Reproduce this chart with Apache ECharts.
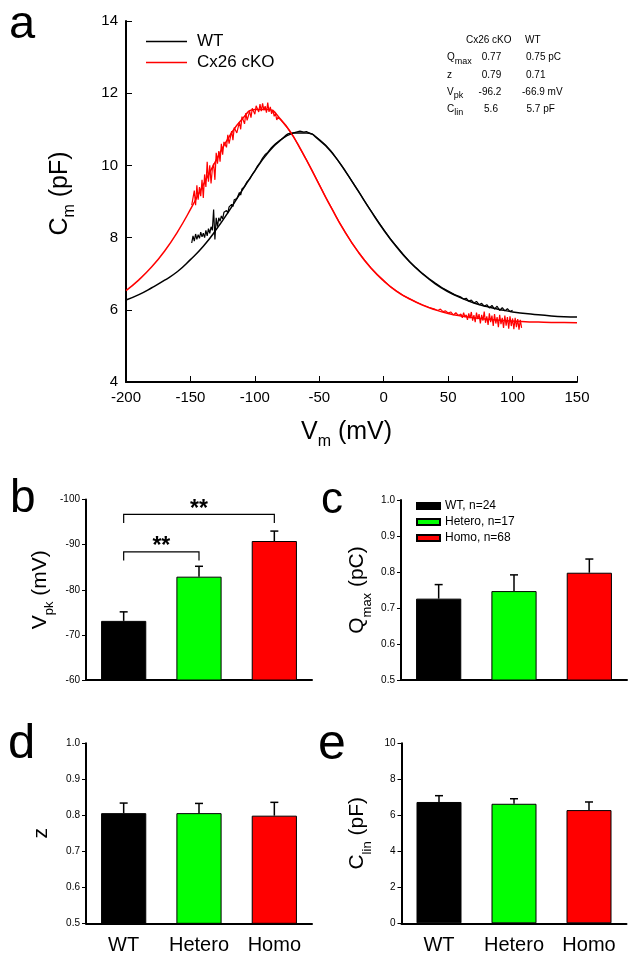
<!DOCTYPE html>
<html><head><meta charset="utf-8">
<script src="https://cdn.jsdelivr.net/npm/echarts@6/dist/echarts.min.js"></script>
<style>html,body{margin:0;padding:0;background:#fff}#c{width:639px;height:963px}</style>
</head><body><div id="c"></div>
<script>
const FONT = '"Liberation Sans", Arial, sans-serif';

// ---- Panel a : Cm vs Vm ----
const fitV  = [-200,-190,-180,-170,-160,-150,-140,-130,-120,-110,-100,-90,-80,-70,-60,-50,-40,-30,-20,-10,0,10,20,30,40,50,60,70,80,90,100,110,120,130,140,150];
const fitWT = [6.27,6.42,6.61,6.82,7.06,7.39,7.76,8.22,8.74,9.30,9.85,10.34,10.70,10.90,10.90,10.70,10.34,9.85,9.30,8.74,8.21,7.74,7.33,7.00,6.72,6.50,6.33,6.19,6.09,6.01,5.94,5.90,5.86,5.83,5.81,5.80];
const fitKO = [6.53,6.83,7.19,7.63,8.16,8.78,9.46,10.15,10.79,11.28,11.55,11.55,11.28,10.79,10.15,9.46,8.78,8.15,7.61,7.16,6.80,6.51,6.30,6.13,6.00,5.90,5.83,5.78,5.74,5.71,5.69,5.67,5.66,5.65,5.645,5.64];

const traceWT = [[-149,7.85],[-148,8.05],[-147,7.90],[-146,8.10],[-145,7.95],[-144,8.08],[-143,7.98],[-142,8.15],[-141,8.02],[-140,8.12],[-139,8.00],[-138,8.20],[-137,8.05],[-136,8.25],[-135,8.12],[-134,8.30],[-133,8.20],[-132,8.78],[-131,7.95],[-130,8.55],[-129,8.30],[-128,8.55],[-127,8.45],[-126,8.60],[-125,8.52],[-124,8.70],[-122,8.75],[-121,8.68],[-120,8.85],[-118,8.92],[-117,8.86],[-116,9.05],[-114,9.08],[-112,9.25],[-111,9.18],[-110,9.35],[-108,9.42],[-107,9.38],[-106,9.55],[-104,9.62],[-103,9.58],[-102,9.75],[-100,9.85],[-98,9.98],[-96,10.08],[-94,10.20],[-92,10.30],[-90,10.36],[-87,10.50],[-84,10.60],[-80,10.71],[-75,10.82],[-70,10.90],[-65,10.95],[-62,10.92],[-60,10.94],[-57,10.88],[-55,10.86],[-50,10.72],[-45,10.56],[-40,10.36],[-35,10.11],[-30,9.86],[-25,9.58],[-20,9.31],[-15,9.02],[-10,8.75],[-5,8.48],[0,8.22],[5,7.97],[10,7.76],[15,7.54],[20,7.34],[25,7.17],[30,7.01],[35,6.87],[40,6.74],[45,6.62],[50,6.52],[55,6.42],[60,6.35],[62,6.30],[64,6.32],[66,6.24],[68,6.27],[70,6.19],[72,6.23],[74,6.14],[76,6.18],[78,6.10],[80,6.14],[82,6.05],[84,6.12],[86,6.02],[88,6.10],[90,5.98],[92,6.06],[94,5.97],[96,6.03],[98,5.95],[100,5.99]];

const traceKO = [[-149,8.90],[-147,9.30],[-146,8.90],[-145,9.45],[-144,9.05],[-143,9.40],[-142,9.15],[-141,9.60],[-140,9.10],[-139,9.75],[-138,9.40],[-137,10.10],[-136,9.55],[-135,10.00],[-134,9.50],[-133,9.90],[-132,10.05],[-131,9.60],[-130,10.35],[-129,10.05],[-128,10.40],[-127,10.10],[-126,10.60],[-125,10.30],[-124,10.65],[-122,10.50],[-121,10.85],[-120,10.60],[-118,10.95],[-117,10.70],[-116,11.05],[-114,10.90],[-112,11.20],[-111,11.00],[-110,11.35],[-108,11.15],[-107,11.45],[-106,11.25],[-104,11.50],[-103,11.32],[-102,11.58],[-100,11.42],[-99,11.65],[-97,11.48],[-96,11.70],[-95,11.50],[-94,11.72],[-93,11.53],[-92,11.64],[-91,11.46],[-90,11.74],[-89,11.48],[-88,11.62],[-87,11.43],[-86,11.54],[-85,11.36],[-84,11.44],[-83,11.26],[-82,11.34],[-80,11.26],[-78,11.18],[-75,11.05],[-72,10.90],[-70,10.80],[-65,10.47],[-60,10.16],[-55,9.82],[-50,9.47],[-45,9.12],[-40,8.79],[-35,8.46],[-30,8.16],[-25,7.87],[-20,7.62],[-15,7.38],[-10,7.17],[-5,6.98],[0,6.81],[5,6.65],[10,6.52],[15,6.40],[20,6.31],[25,6.22],[30,6.14],[35,6.07],[40,6.01],[42,5.98],[44,6.02],[46,5.95],[48,5.97],[50,5.91],[52,5.94],[54,5.86],[56,5.92],[58,5.84],[60,5.88],[61,5.78],[62,5.92],[63,5.80],[64,5.86],[65,5.72],[66,5.90],[67,5.76],[68,5.94],[69,5.70],[70,5.85],[71,5.66],[72,5.92],[73,5.74],[74,5.88],[75,5.62],[76,5.86],[77,5.70],[78,5.95],[79,5.64],[80,5.82],[81,5.58],[82,5.90],[83,5.66],[84,5.84],[85,5.55],[86,5.88],[87,5.62],[88,5.80],[89,5.52],[90,5.86],[91,5.60],[92,5.78],[93,5.50],[94,5.84],[95,5.56],[96,5.80],[97,5.48],[98,5.82],[99,5.55],[100,5.76],[101,5.46],[102,5.78],[103,5.52],[104,5.74],[105,5.45],[106,5.72],[107,5.50]];

const xTicksA = [-200,150,50];   // min, max, interval
const yTicksA = [4,14,2];

// ---- Panels b-e : group bars ----
const groups = ['WT','Hetero','Homo'];
const legendNames = ['WT, n=24','Hetero, n=17','Homo, n=68'];
const barColors = ['#000000','#00ff00','#ff0000'];
const vpkMean  = [-73.1,-82.9,-90.8];
const vpkErr   = [2.0,2.3,2.2];
const qmaxMean = [0.726,0.747,0.798];
const qmaxErr  = [0.039,0.045,0.038];
const zMean    = [0.806,0.806,0.799];
const zErr     = [0.028,0.027,0.037];
const clinMean = [6.74,6.64,6.29];
const clinErr  = [0.35,0.28,0.45];
// significance brackets in b: from group, to group, bracket level, leg end
const brFrom = [0,0];
const brTo   = [1,2];
const brTop  = [-88.4,-96.7];
const brLeg  = [-86.5,-94.8];

const chart = echarts.init(document.getElementById('c'), null, {renderer:'canvas'});

const richBig = {
  a:{fontSize:25, fontFamily:FONT, color:'#000', lineHeight:36},
  b:{fontSize:16, fontFamily:FONT, color:'#000', lineHeight:13, verticalAlign:'bottom'}
};
const richSmall = {
  a:{fontSize:21, fontFamily:FONT, color:'#000', lineHeight:32},
  b:{fontSize:13, fontFamily:FONT, color:'#000', lineHeight:11, verticalAlign:'bottom'}
};

const grids = [
  {left:126, top:21, width:451, height:361},
  {left:86, top:499.5, width:226, height:180.5},
  {left:401, top:500, width:226, height:180},
  {left:86, top:743.3, width:226, height:180},
  {left:401.5, top:743.3, width:225, height:180}
];

const xAxes = [{
  gridIndex:0, type:'value', min:xTicksA[0], max:xTicksA[1], interval:xTicksA[2],
  axisLine:{onZero:false, lineStyle:{color:'#000', width:2}},
  axisTick:{inside:true, length:6, lineStyle:{color:'#000', width:1}},
  axisLabel:{color:'#000', fontSize:15, fontFamily:FONT, margin:8},
  splitLine:{show:false},
  name:'{a|V}{b|m}{a| (mV)}', nameLocation:'middle', nameGap:32,
  nameTextStyle:{rich:richBig, padding:[0,10,0,0]}
}];
const yAxes = [{
  gridIndex:0, type:'value', min:yTicksA[0], max:yTicksA[1], interval:yTicksA[2],
  axisLine:{onZero:false, lineStyle:{color:'#000', width:2}},
  axisTick:{inside:true, length:6, lineStyle:{color:'#000', width:1}},
  axisLabel:{color:'#000', fontSize:15, fontFamily:FONT, margin:8},
  splitLine:{show:false},
  name:'{a|C}{b|m}{a| (pF)}', nameLocation:'middle', nameGap:48,
  nameTextStyle:{rich:richBig, padding:[0,0,0,16]}
}];

function catAxis(gi, showLabels){
  return {
    gridIndex:gi, type:'category', data:groups, boundaryGap:true,
    axisLine:{onZero:false, lineStyle:{color:'#000', width:2}},
    axisTick:{show:false},
    axisLabel:{show:showLabels, interval:0, color:'#000', fontSize:20, fontFamily:FONT, margin:12},
    splitLine:{show:false}
  };
}
function valAxis(gi, min, max, interval, name, nameGap, fmt, inverse){
  return {
    gridIndex:gi, type:'value', min:min, max:max, interval:interval, inverse:!!inverse,
    axisLine:{show:true, onZero:false, lineStyle:{color:'#000', width:2}},
    axisTick:{show:true, inside:false, length:4, lineStyle:{color:'#000', width:1}},
    axisLabel:{color:'#000', fontSize:10, fontFamily:FONT, margin:6, formatter:fmt},
    splitLine:{show:false},
    name:name, nameLocation:'middle', nameGap:nameGap,
    nameTextStyle:{rich:richSmall}
  };
}
const f1 = v => v.toFixed(1);
const f0 = v => String(v);
xAxes.push(catAxis(1,false), catAxis(2,false), catAxis(3,true), catAxis(4,true));
yAxes.push(
  valAxis(1,-100,-60,10,'{a|V}{b|pk}{a| (mV)}',28,f0,true),
  valAxis(2,0.5,1.0,0.1,'{a|Q}{b|max}{a| (pC)}',27.5,f1,false),
  valAxis(3,0.5,1.0,0.1,'{a|z}',29,f1,false),
  valAxis(4,0,10,2,'{a|C}{b|lin}{a| (pF)}',28,f0,false)
);

const series = [];
// panel a lines
series.push({type:'line', name:'WT', xAxisIndex:0, yAxisIndex:0, data:fitV.map((v,i)=>[v,fitWT[i]]),
  symbol:'none', smooth:true, lineStyle:{color:'#000', width:1.5}, itemStyle:{color:'#000'}, z:2});
series.push({type:'line', name:'Cx26 cKO', xAxisIndex:0, yAxisIndex:0, data:fitV.map((v,i)=>[v,fitKO[i]]),
  symbol:'none', smooth:true, lineStyle:{color:'#ff0000', width:1.5}, itemStyle:{color:'#ff0000'}, z:2});
series.push({type:'line', name:'WT', xAxisIndex:0, yAxisIndex:0, data:traceWT,
  symbol:'none', lineStyle:{color:'#000', width:1.2}, itemStyle:{color:'#000'}, z:3});
series.push({type:'line', name:'Cx26 cKO', xAxisIndex:0, yAxisIndex:0, data:traceKO,
  symbol:'none', lineStyle:{color:'#ff0000', width:1.2}, itemStyle:{color:'#ff0000'}, z:3});

function addBars(gi, means, errs, sign){
  for (let k=0;k<3;k++){
    series.push({type:'bar', name:legendNames[k], xAxisIndex:gi, yAxisIndex:gi,
      data:means.map((m,j)=> j===k ? m : '-'),
      barWidth:'60%', barGap:'-100%', clip:true,
      itemStyle:{color:barColors[k], borderColor:'#000', borderWidth:1}, z:2});
  }
  series.push({type:'custom', xAxisIndex:gi, yAxisIndex:gi,
    data:means.map((m,j)=>[j, m, m + sign*errs[j]]),
    renderItem:function(params, api){
      const p0 = api.coord([api.value(0), api.value(1)]);
      const p1 = api.coord([api.value(0), api.value(2)]);
      return {type:'group', children:[
        {type:'line', shape:{x1:p0[0], y1:p0[1], x2:p1[0], y2:p1[1]}, style:{stroke:'#000', lineWidth:1.5}},
        {type:'line', shape:{x1:p1[0]-4, y1:p1[1], x2:p1[0]+4, y2:p1[1]}, style:{stroke:'#000', lineWidth:1.5}}
      ]};
    }, z:3});
}
addBars(1, vpkMean, vpkErr, -1);
addBars(2, qmaxMean, qmaxErr, 1);
addBars(3, zMean, zErr, 1);
addBars(4, clinMean, clinErr, 1);

series.push({type:'custom', xAxisIndex:1, yAxisIndex:1,
  data:brFrom.map((f,i)=>[f, brTo[i], brTop[i], brLeg[i]]),
  renderItem:function(params, api){
    const a = api.coord([api.value(0), api.value(2)]);
    const b = api.coord([api.value(1), api.value(2)]);
    const aL = api.coord([api.value(0), api.value(3)]);
    const bL = api.coord([api.value(1), api.value(3)]);
    return {type:'group', children:[
      {type:'polyline', shape:{points:[[aL[0],aL[1]],[a[0],a[1]],[b[0],b[1]],[bL[0],bL[1]]]}, style:{stroke:'#000', lineWidth:1.2, fill:null}},
      {type:'text', x:(a[0]+b[0])/2, y:a[1]-5, style:{text:'**', fontSize:23, fontWeight:'bold', fontFamily:FONT, fill:'#000', align:'center', verticalAlign:'middle'}}
    ]};
  }, z:4});

function ttext(x, y, t, align){
  return {type:'text', x:x, y:y, silent:true, style:{text:t, fontSize:10, fontFamily:FONT, fill:'#000', align:align||'left', verticalAlign:'middle'}};
}
function tsub(x, y, main, sub){
  return {type:'text', x:x, y:y, silent:true, style:{text:'{m|'+main+'}{s|'+sub+'}', verticalAlign:'middle', align:'left',
    rich:{m:{fontSize:10, fontFamily:FONT, fill:'#000', lineHeight:16}, s:{fontSize:9, fontFamily:FONT, fill:'#000', lineHeight:6, verticalAlign:'bottom'}}}};
}
function letter(x, y, t, size){
  return {type:'text', x:x, y:y, silent:true, style:{text:t, fontSize:size, fontFamily:FONT, fill:'#000', align:'left', verticalAlign:'middle'}};
}

const graphic = [
  letter(9, 41-0.35*47, 'a', 47),
  letter(10, 515-0.35*46, 'b', 46),
  letter(321, 516-0.35*44, 'c', 44),
  letter(8, 762-0.35*49, 'd', 49),
  letter(318, 763-0.35*50, 'e', 50),
  ttext(466, 40, 'Cx26 cKO'), ttext(525, 40, 'WT'),
  tsub(447, 57.7, 'Q', 'max'), ttext(491.5, 57.7, '0.77', 'center'), ttext(526, 57.7, '0.75 pC'),
  ttext(447, 75, 'z'), ttext(491.5, 75, '0.79', 'center'), ttext(526, 75, '0.71'),
  tsub(447, 92.3, 'V', 'pk'), ttext(490, 92.3, '-96.2', 'center'), ttext(522, 92.3, '-66.9 mV'),
  tsub(447, 109.3, 'C', 'lin'), ttext(491, 109.3, '5.6', 'center'), ttext(526.5, 109.3, '5.7 pF')
];

chart.setOption({
  animation:false,
  backgroundColor:'#ffffff',
  textStyle:{fontFamily:FONT},
  grid:grids,
  xAxis:xAxes,
  yAxis:yAxes,
  legend:[
    {data:['WT','Cx26 cKO'], left:146, top:32.5, padding:0, orient:'vertical', icon:'rect', itemWidth:41, itemHeight:1.5, itemGap:3,
     selectedMode:false, textStyle:{fontSize:17, fontFamily:FONT, color:'#000', lineHeight:18, padding:[0,0,0,5]}},
    {data:legendNames, left:416, top:499, padding:0, orient:'vertical', icon:'rect', itemWidth:23, itemHeight:6, itemGap:2,
     selectedMode:false, textStyle:{fontSize:12, fontFamily:FONT, color:'#000', lineHeight:14}}
  ],
  series:series,
  graphic:graphic
});
</script></body></html>
